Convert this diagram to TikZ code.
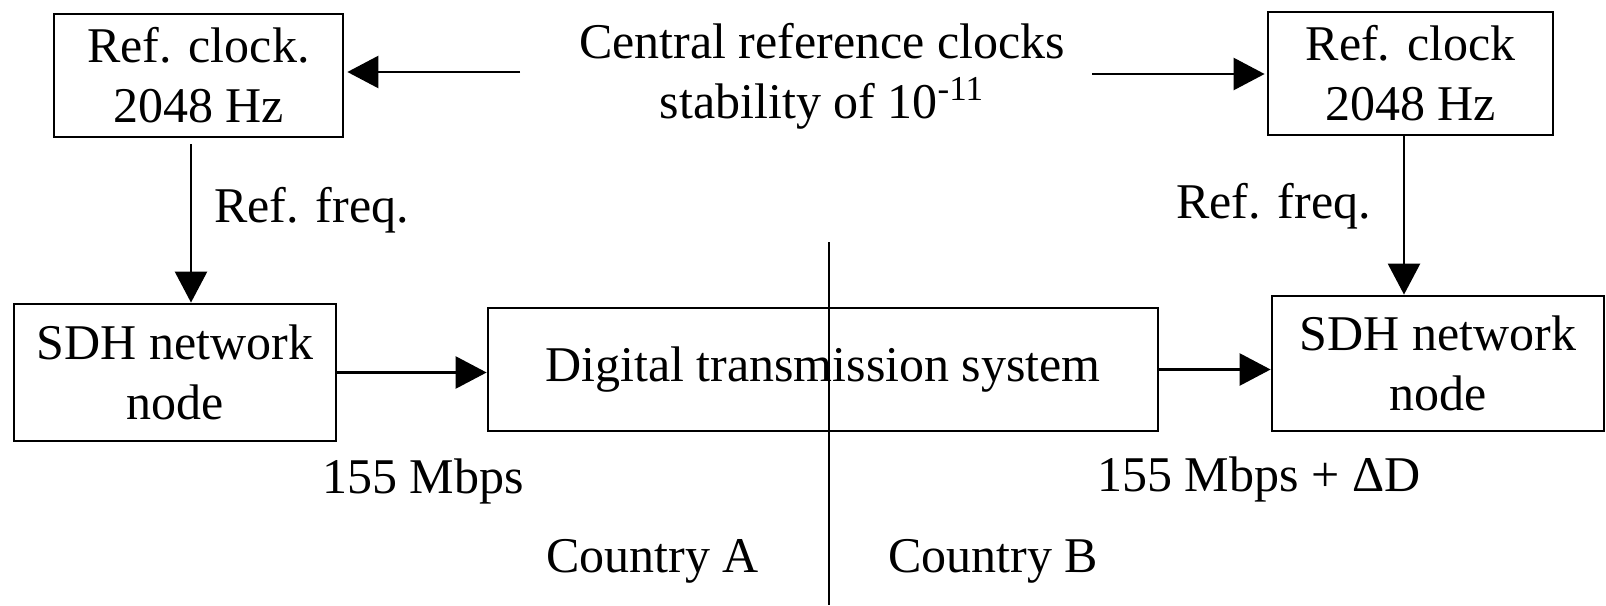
\documentclass[tikz,border=0pt]{standalone}
\usepackage{fontspec}
\setmainfont{Liberation Serif}
\usetikzlibrary{arrows.meta}

\begin{document}
\begin{tikzpicture}[
    x=0.5pt, y=-0.5pt,
    font=\fontsize{25}{30}\selectfont,
    block/.style={rectangle, draw=black, line width=1.4pt, align=center, inner sep=0pt},
    flow/.style={-{Triangle[length=15.5pt, width=16pt]}, line width=1.3pt},
    lbl/.style={anchor=base west, inner sep=0pt}
]
\useasboundingbox (0,0) rectangle (1606,605);

% clocks on top, network on the bottom row
\node[block, minimum width=144.5pt, minimum height=61.5pt] (clkA) at (198.5,75.5) {Ref. clock.\\2048 Hz};
\node[block, minimum width=142.5pt, minimum height=61.5pt] (clkB) at (1410.5,73.5) {Ref. clock\\2048 Hz};
\node[align=center] (central) at (822,76) {Central reference clocks\\stability of 10\textsuperscript{-11}};

\node[block, minimum width=161pt, minimum height=68.5pt] (sdhA) at (175,372.5) {SDH network\\node};
\node[block, minimum width=335pt, minimum height=61.5pt] (dts) at (823,369.5) {Digital transmission system};
\node[block, minimum width=166pt, minimum height=67.5pt] (sdhB) at (1438,363.5) {SDH network\\node};

% central clocks feed both sides
\coordinate (tailA) at (520,72);
\coordinate (tailB) at (1092,74);
\draw[flow, shorten >=1.5pt] (tailA) -- (tailA -| clkA.east);
\draw[flow, shorten >=1pt] (tailB) -- (tailB -| clkB.west);

\draw[flow] (clkA.south) ++(-7.5,6) coordinate (dA) -- (dA |- sdhA.north);
\draw[flow] (clkB.south) ++(-6.5,0) coordinate (dB) -- (dB |- sdhB.north);

\draw[flow] (sdhA.east) -- (sdhA.east -| dts.west);
\draw[flow] (dts.east) -- (dts.east -| sdhB.west);

\node[lbl] (freqA) at (214,222) {Ref. freq.};
\node[lbl] (freqB) at (1176,218) {Ref. freq.};
\node[lbl] (rateA) at (322,493) {155 Mbps};
\node[lbl] (rateB) at (1097,491) {155 Mbps + ΔD};

% border between the two countries
\coordinate (bordTop) at (829,242);
\coordinate (bordBot) at (829,605);
\draw[line width=1pt] (bordTop) -- (bordBot);
\node[lbl] (ctryA) at (546,572) {Country A};
\node[lbl] (ctryB) at (888,572) {Country B};
\end{tikzpicture}
\end{document}
